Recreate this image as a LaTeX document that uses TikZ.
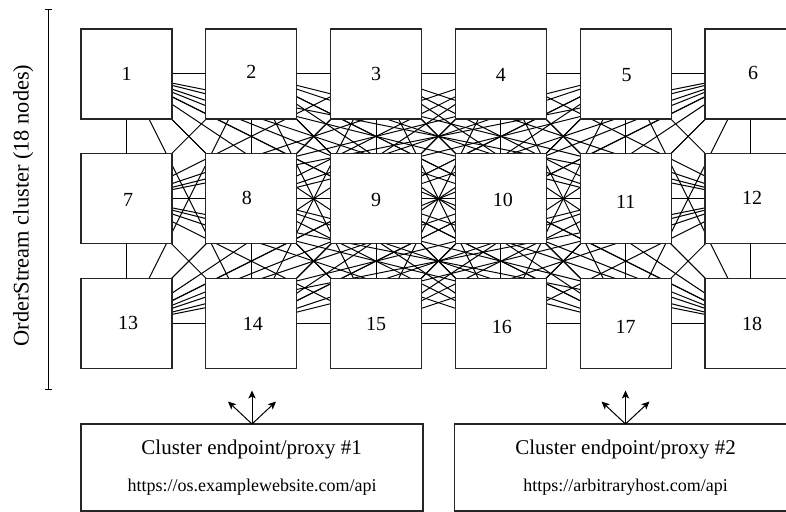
\documentclass[tikz,border=0pt]{standalone}
\usepackage{fontspec}
\setmainfont{Liberation Serif}
\usetikzlibrary{backgrounds,arrows.meta}
\tikzset{
  mbox/.style={draw=black!85, fill=white, line width=0.55pt, minimum width=45.5pt, minimum height=45pt, inner sep=0pt, outer sep=0pt},
  meshline/.style={line width=0.5pt, black},
  nlabel/.style={font=\fontsize{10}{12}\selectfont, inner sep=0pt},
  epbox/.style={draw=black!85, fill=white, line width=0.55pt, minimum width=171pt, minimum height=43.5pt, inner sep=0pt, outer sep=0pt},
  eptitle/.style={font=\fontsize{10.5}{12}\selectfont, anchor=base, inner sep=0pt},
  epurl/.style={font=\fontsize{9}{11}\selectfont, anchor=base, inner sep=0pt},
  uparrow/.style={-{Stealth[length=4pt,width=3.6pt,inset=1pt]}, line width=0.5pt},
  scalebar/.style={{Bar[width=3.7pt]}-{Bar[width=3.7pt]}, line width=0.6pt},
  sidelabel/.style={rotate=90, anchor=base, inner sep=0pt, font=\fontsize{11.2}{13}\selectfont},
}
\begin{document}
\begin{tikzpicture}[x=0.5pt,y=-0.5pt]
\useasboundingbox (0,0) rectangle (786,512);

% cluster nodes: name / column / row / label dx (px) / label dy (px, up)
\foreach \n/\c/\r/\dx/\dy in {
  1/0/0/0/0, 2/1/0/0/1.7, 3/2/0/0/0, 4/3/0/0/-1, 5/4/0/1/-1, 6/5/0/2.5/1,
  7/0/1/1.5/-1, 8/1/1/-4.5/1, 9/2/1/0/-1, 10/3/1/2/-1, 11/4/1/0/-3, 12/5/1/1.5/1,
  13/0/2/1.5/1, 14/1/2/1.5/0, 15/2/2/0/0, 16/3/2/1/-3.5, 17/4/2/0/-3.5, 18/5/2/1.5/0}{
  \node[mbox, label={[nlabel, xshift=\dx*0.5pt, yshift=\dy*0.5pt]center:\n}]
    (n\n) at ({126.5+124.8*\c},{74+124.75*\r}) {};
}

% full mesh behind the boxes
\begin{pgfonlayer}{background}
\foreach \i in {1,...,17}{
  \pgfmathtruncatemacro\k{\i+1}
  \foreach \j in {\k,...,18}{
    \draw[meshline] (n\i.center) -- (n\j.center);
  }
}
\end{pgfonlayer}

% side scale bar and label
\coordinate (bartop) at (48.3,9);
\coordinate (barbot) at (48.3,390);
\draw[scalebar] (bartop) -- (barbot);
\node[sidelabel] (clabel) at (28.5,205.5) {OrderStream cluster (18 nodes)};

% endpoints
\node[epbox] (ep1) at (252,467.5) {};
\node[epbox] (ep2) at (625.5,467.5) {};
\node[eptitle] (ep1t) at (251.7,454) {Cluster endpoint/proxy \#1};
\node[epurl] (ep1u) at (252,491) {https://os.examplewebsite.com/api};
\node[eptitle] (ep2t) at (625.5,454) {Cluster endpoint/proxy \#2};
\node[epurl] (ep2u) at (625.5,491) {https://arbitraryhost.com/api};

% arrows from endpoints
\foreach \e in {ep1,ep2}{
  \draw[uparrow] (\e.north) -- ++(0,-33.5);
  \draw[uparrow] (\e.north) -- ++(-24,-22.5);
  \draw[uparrow] (\e.north) -- ++(24,-22.5);
}
\end{tikzpicture}
\end{document}
